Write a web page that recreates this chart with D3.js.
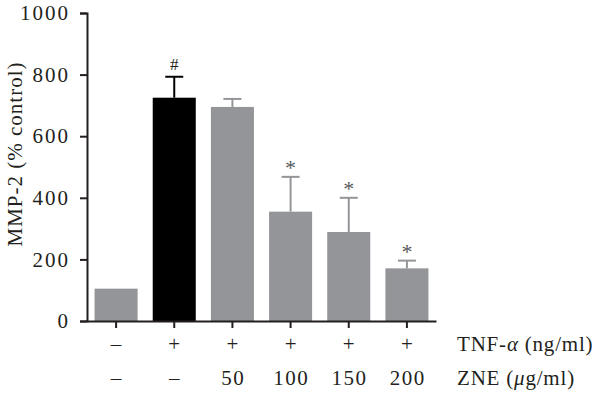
<!DOCTYPE html>
<html>
<head>
<meta charset="utf-8">
<script src="https://cdn.jsdelivr.net/npm/d3@7"></script>
<style>
  body { margin: 0; background: #fff; }
  text { font-family: "Liberation Serif", "Times New Roman", serif; fill: #231f20; }
</style>
</head>
<body>
<div class="chart"></div>
<script>
const groups = ["ctrl", "tnf", "z50", "z100", "z150", "z200"];
const means = [105, 725, 695, 355, 289, 171];
const errTop = [105, 793, 721, 468, 400, 196];
const marks = ["", "#", "", "*", "*", "*"];
const tnfRow = ["\u2013", "+", "+", "+", "+", "+"];
const zneRow = ["\u2013", "\u2013", "50", "100", "150", "200"];
const yTicks = [0, 200, 400, 600, 800, 1000];

const margin = {left: 87, top: 13, right: 164, bottom: 75};
const width = 600 - margin.left - margin.right;
const height = 396 - margin.top - margin.bottom;
const fs = "21px";

let svg = d3.select('.chart')
  .append('svg')
  .attr('width', 600)
  .attr('height', 396)
  .append('g')
  .attr('transform', "translate(" + margin.left + "," + margin.top + ")");

let xScale = d3.scaleBand()
  .domain(groups)
  .range([0, width])
  .paddingInner(0.26)
  .paddingOuter(0.13);

let yScale = d3.scaleLinear()
  .domain([0, 1000])
  .range([height, 0]);

const barColor = (d, i) => i === 1 ? "#000000" : "#939598";

// bars
svg.selectAll("rect.bar")
  .data(means)
  .enter()
  .append("rect")
  .attr("class", "bar")
  .attr("x", (d, i) => xScale(groups[i]))
  .attr("y", d => yScale(d))
  .attr("width", xScale.bandwidth())
  .attr("height", d => height - yScale(d))
  .attr("fill", barColor);

// error bars (upper only)
const capW = 9;
errTop.forEach((e, i) => {
  if (e <= means[i]) return;
  const cx = xScale(groups[i]) + xScale.bandwidth() / 2;
  const col = barColor(null, i);
  svg.append("line")
    .attr("x1", cx).attr("x2", cx)
    .attr("y1", yScale(means[i])).attr("y2", yScale(e))
    .attr("stroke", col).attr("stroke-width", 2);
  svg.append("line")
    .attr("x1", cx - capW).attr("x2", cx + capW)
    .attr("y1", yScale(e)).attr("y2", yScale(e))
    .attr("stroke", col).attr("stroke-width", 2);
});

// significance marks
svg.selectAll("text.mark")
  .data(marks)
  .enter()
  .append("text")
  .attr("class", "mark")
  .attr("x", (d, i) => xScale(groups[i]) + xScale.bandwidth() / 2)
  .attr("y", (d, i) => yScale(errTop[i]) - (d === "#" ? 7 : 2))
  .attr("text-anchor", "middle")
  .style("font-size", d => d === "#" ? "17px" : "22px")
  .style("fill", d => d === "#" ? "#231f20" : "#58595b")
  .text(d => d);

// y axis
let yAxis = d3.axisLeft(yScale)
  .tickValues(yTicks)
  .tickFormat(d3.format("d"))
  .tickSize(7)
  .tickPadding(10);

let yg = svg.append('g').call(yAxis);
yg.select(".domain").attr("stroke", "#231f20").attr("stroke-width", 2);
yg.selectAll(".tick line").attr("stroke", "#231f20").attr("stroke-width", 2);
yg.selectAll("text")
  .style("font-size", fs)
  .style("letter-spacing", "2px")
  .attr("fill", "#231f20");

// x axis
let xAxis = d3.axisBottom(xScale)
  .tickSize(7)
  .tickSizeOuter(0)
  .tickFormat("");

let xg = svg.append('g')
  .attr("transform", "translate(0," + height + ")")
  .call(xAxis);
xg.select(".domain").attr("stroke", "#231f20").attr("stroke-width", 2);
xg.selectAll(".tick line").attr("stroke", "#231f20").attr("stroke-width", 2);

// treatment rows
const rows = [{vals: tnfRow, y: 30}, {vals: zneRow, y: 64}];
rows.forEach(r => {
  svg.selectAll(null)
    .data(r.vals)
    .enter()
    .append("text")
    .attr("x", (d, i) => xScale(groups[i]) + xScale.bandwidth() / 2 + 0.75)
    .attr("y", height + r.y)
    .attr("text-anchor", "middle")
    .style("font-size", fs)
    .style("letter-spacing", "1.5px")
    .text(d => d);
});

// row labels
let t1 = svg.append("text")
  .attr("x", 370)
  .attr("y", height + 30)
  .style("font-size", fs)
  .style("letter-spacing", "0.8px");
t1.append("tspan").text("TNF-");
t1.append("tspan").style("font-style", "italic").text("\u03b1");
t1.append("tspan").text(" (ng/ml)");

let t2 = svg.append("text")
  .attr("x", 370)
  .attr("y", height + 64)
  .style("font-size", fs)
  .style("letter-spacing", "0.8px");
t2.append("tspan").text("ZNE (");
t2.append("tspan").style("font-style", "italic").text("\u03bc");
t2.append("tspan").text("g/ml)");

// y label
svg.append('text')
  .attr('transform', 'rotate(-90)')
  .attr('x', -(height / 2) + 13)
  .attr('y', -65)
  .attr('text-anchor', 'middle')
  .style("font-size", fs)
  .style("letter-spacing", "1px")
  .text('MMP-2 (% control)');
</script>
</body>
</html>
